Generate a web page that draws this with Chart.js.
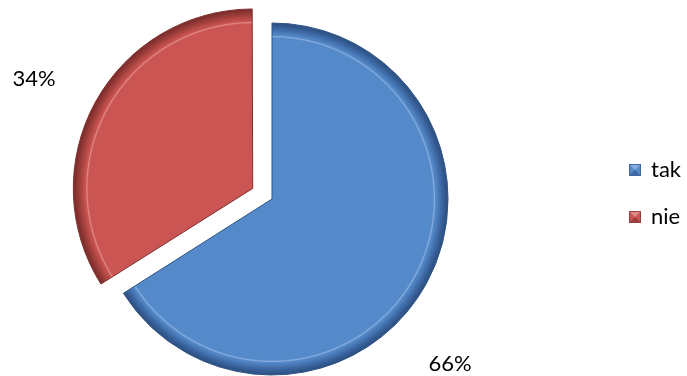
<!DOCTYPE html>
<html>
<head>
<meta charset="utf-8">
<script src="https://cdn.jsdelivr.net/npm/chart.js@4.4.1/dist/chart.umd.min.js"></script>
<style>
html,body{margin:0;padding:0;background:#ffffff;}
#wrap{width:687px;height:376px;}
</style>
</head>
<body>
<div id="wrap"><canvas id="c" width="687" height="376"></canvas></div>
<script>
// ---- data ----
const categories = ['tak', 'nie'];
const values = [66, 34];
const percentLabels = ['66%', '34%'];

// ---- styling ----
const sliceColors = ['#558ACA', '#CB5552'];
const lightColors = ['#86ADDD', '#E08A87'];
const darkColors  = ['#3C67A3', '#9E3E3B'];
const edgeColors  = ['#2E5385', '#7F2F2D'];
const sliceOffsets = [0, 88];            // Chart.js translates by offset/4
const pieRadius = 176;
const labelAngleShift = [0.243, -0.038]; // radians, label placement tweak
const labelGap = [66.5, 68.5];
const FONT = 'Lato, "Open Sans", sans-serif';

function rimGradient(context) {
  const i = context.dataIndex;
  const chart = context.chart;
  const ca = chart.chartArea;
  if (i === undefined || !ca) return sliceColors[i || 0];
  const cx = (ca.left + ca.right) / 2;
  const cy = (ca.top + ca.bottom) / 2;
  const total = values.reduce((a, b) => a + b, 0);
  const circ = Math.PI * 2 * values[i] / total;
  const off = sliceOffsets[i] / 4;
  const R = pieRadius + off * (1 - Math.sin(Math.min(Math.PI, circ)));
  const g = chart.ctx.createRadialGradient(cx, cy, 0, cx, cy, R);
  const s = (px) => Math.max(0, Math.min(1, (R - px) / R));
  g.addColorStop(0, sliceColors[i]);
  g.addColorStop(s(15), sliceColors[i]);
  g.addColorStop(s(13.5), lightColors[i]);
  g.addColorStop(s(12.5), sliceColors[i]);
  g.addColorStop(s(6), darkColors[i]);
  g.addColorStop(s(1.5), edgeColors[i]);
  g.addColorStop(1, edgeColors[i]);
  return g;
}

const pctLabelPlugin = {
  id: 'pctLabels',
  afterDatasetsDraw(chart) {
    const meta = chart.getDatasetMeta(0);
    const ctx = chart.ctx;
    ctx.save();
    ctx.font = '22px ' + FONT;
    ctx.fillStyle = '#000000';
    ctx.textAlign = 'center';
    ctx.textBaseline = 'middle';
    meta.data.forEach((arc, i) => {
      const p = arc.getProps(['x', 'y', 'startAngle', 'endAngle', 'outerRadius'], true);
      const mid = (p.startAngle + p.endAngle) / 2;
      const off = (arc.options.offset || 0) / 4;
      const a = mid + labelAngleShift[i];
      const d = p.outerRadius + labelGap[i];
      const x = p.x + Math.cos(mid) * off + Math.cos(a) * d;
      const y = p.y + Math.sin(mid) * off + Math.sin(a) * d;
      ctx.fillText(percentLabels[i], x, y);
    });
    ctx.restore();
  }
};

const sideLegendPlugin = {
  id: 'sideLegend',
  afterDraw(chart) {
    const ctx = chart.ctx;
    const ca = chart.chartArea;
    const bx = ca.right + 85;
    const y0 = 170, step = 47, bs = 12;
    ctx.save();
    chart.data.labels.forEach((lab, i) => {
      const cy = y0 + i * step;
      const x = bx, y = cy - bs / 2;
      ctx.fillStyle = sliceColors[i];
      ctx.fillRect(x, y, bs, bs);
      ctx.beginPath();
      ctx.moveTo(x, y); ctx.lineTo(x + bs, y); ctx.lineTo(x + bs / 2, y + bs / 2); ctx.closePath();
      ctx.fillStyle = lightColors[i]; ctx.fill();
      ctx.beginPath();
      ctx.moveTo(x, y + bs); ctx.lineTo(x + bs, y + bs); ctx.lineTo(x + bs / 2, y + bs / 2); ctx.closePath();
      ctx.fillStyle = darkColors[i]; ctx.fill();
      ctx.strokeStyle = darkColors[i];
      ctx.lineWidth = 1;
      ctx.strokeRect(x + 0.5, y + 0.5, bs - 1, bs - 1);
      ctx.fillStyle = '#000000';
      ctx.font = '22px ' + FONT;
      ctx.textAlign = 'left';
      ctx.textBaseline = 'middle';
      ctx.fillText(lab, x + bs + 10, cy);
    });
    ctx.restore();
  }
};

new Chart(document.getElementById('c'), {
  type: 'pie',
  data: {
    labels: categories,
    datasets: [{
      data: values,
      backgroundColor: rimGradient,
      borderColor: edgeColors,
      borderWidth: 1,
      offset: sliceOffsets,
      hoverOffset: 0
    }]
  },
  options: {
    responsive: false,
    animation: false,
    devicePixelRatio: 1,
    radius: pieRadius,
    layout: { padding: { left: 0, right: 143, top: 22, bottom: 0 } },
    plugins: {
      legend: { display: false },
      tooltip: { enabled: false }
    }
  },
  plugins: [pctLabelPlugin, sideLegendPlugin]
});
</script>
</body>
</html>
